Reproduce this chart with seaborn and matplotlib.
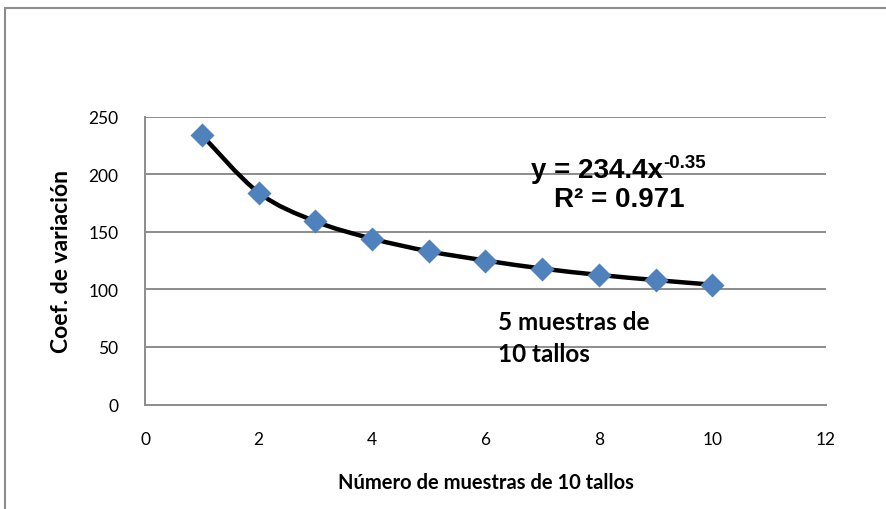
"""Coeficiente de variación vs número de muestras"""

import numpy as np
import pandas as pd
import seaborn as sns
import matplotlib.pyplot as plt
from matplotlib.path import Path
from matplotlib.patches import PathPatch, Rectangle

n_muestras = [1, 2, 3, 4, 5, 6, 7, 8, 9, 10]
coef_var = [234, 184, 159, 144, 133, 125, 118, 112.5, 108, 104]
x_ticks = [0, 2, 4, 6, 8, 10, 12]
y_ticks = [0, 50, 100, 150, 200, 250]


def smooth_path(xs, ys):
    """Excel-style smoothed line: Catmull-Rom segments as cubic Beziers"""
    pts = np.column_stack([xs, ys]).astype(float)
    ext = np.vstack([pts[0], pts, pts[-1]])
    verts = [pts[0]]
    codes = [Path.MOVETO]
    for i in range(1, len(ext) - 2):
        p0, p1, p2, p3 = ext[i - 1], ext[i], ext[i + 1], ext[i + 2]
        verts += [p1 + (p2 - p0) / 6, p2 - (p3 - p1) / 6, p2]
        codes += [Path.CURVE4] * 3
    return Path(verts, codes)


sns.set_theme(style="white")
plt.rcParams["font.family"] = ["Lato", "DejaVu Sans"]
plt.rcParams["text.color"] = "black"
plt.rcParams["axes.labelcolor"] = "black"
arial = ["Liberation Sans", "DejaVu Sans"]

df = pd.DataFrame({"n": n_muestras, "cv": coef_var})

fig = plt.figure(figsize=(8.87, 5.10), dpi=100)
ax = fig.add_axes([0.1635, 0.2049, 0.7677, 0.5647])

# gridlines under everything
for v in y_ticks[1:]:
    ax.axhline(v, color="#8c8c8c", lw=1.4, zorder=0)

ax.add_patch(PathPatch(smooth_path(df["n"], df["cv"]), facecolor="none",
                       edgecolor="black", lw=3.2, zorder=2))
sns.scatterplot(data=df, x="n", y="cv", marker="D", s=150, color="#4F81BD",
                edgecolor="#4F81BD", linewidth=0, zorder=3, ax=ax)

ax.set_xlim(0, 12)
ax.set_ylim(0, 250)
ax.set_xticks(x_ticks)
ax.set_yticks(y_ticks)
ax.tick_params(axis="both", length=0, labelsize=12.5, colors="black")
ax.tick_params(axis="x", pad=19)
ax.tick_params(axis="y", pad=19)
for s in ["top", "right"]:
    ax.spines[s].set_visible(False)
for s in ["left", "bottom"]:
    ax.spines[s].set_color("#8c8c8c")
    ax.spines[s].set_linewidth(1.4)

ax.set_xlabel("Número de muestras de 10 tallos", fontsize=14.5,
              fontweight="bold", labelpad=18)
ax.set_ylabel("Coef. de variación", fontsize=16.5, fontweight="bold",
              labelpad=12)

# trendline equation and annotation
ax.text(9.13, 203.5, "y = 234.4x", fontsize=20, fontweight="bold",
        family=arial, ha="right", va="center")
ax.text(9.13, 210.5, "-0.35", fontsize=13.5, fontweight="bold",
        family=arial, ha="left", va="center")
ax.text(8.35, 178, "R² = 0.971", fontsize=20, fontweight="bold",
        family=arial, ha="center", va="center")
ax.text(6.22, 58, "5 muestras de\n10 tallos", fontsize=17.5, fontweight="bold",
        ha="left", va="center", linespacing=1.45)

# outer chart border, cut off at right and bottom like the source
fig.patches.append(Rectangle((5 / 887, -0.1), 1.5, 1.1 - 9 / 510,
                             transform=fig.transFigure, fill=False,
                             edgecolor="#8c8c8c", lw=1.5))

plt.savefig("out.png", dpi=100)
